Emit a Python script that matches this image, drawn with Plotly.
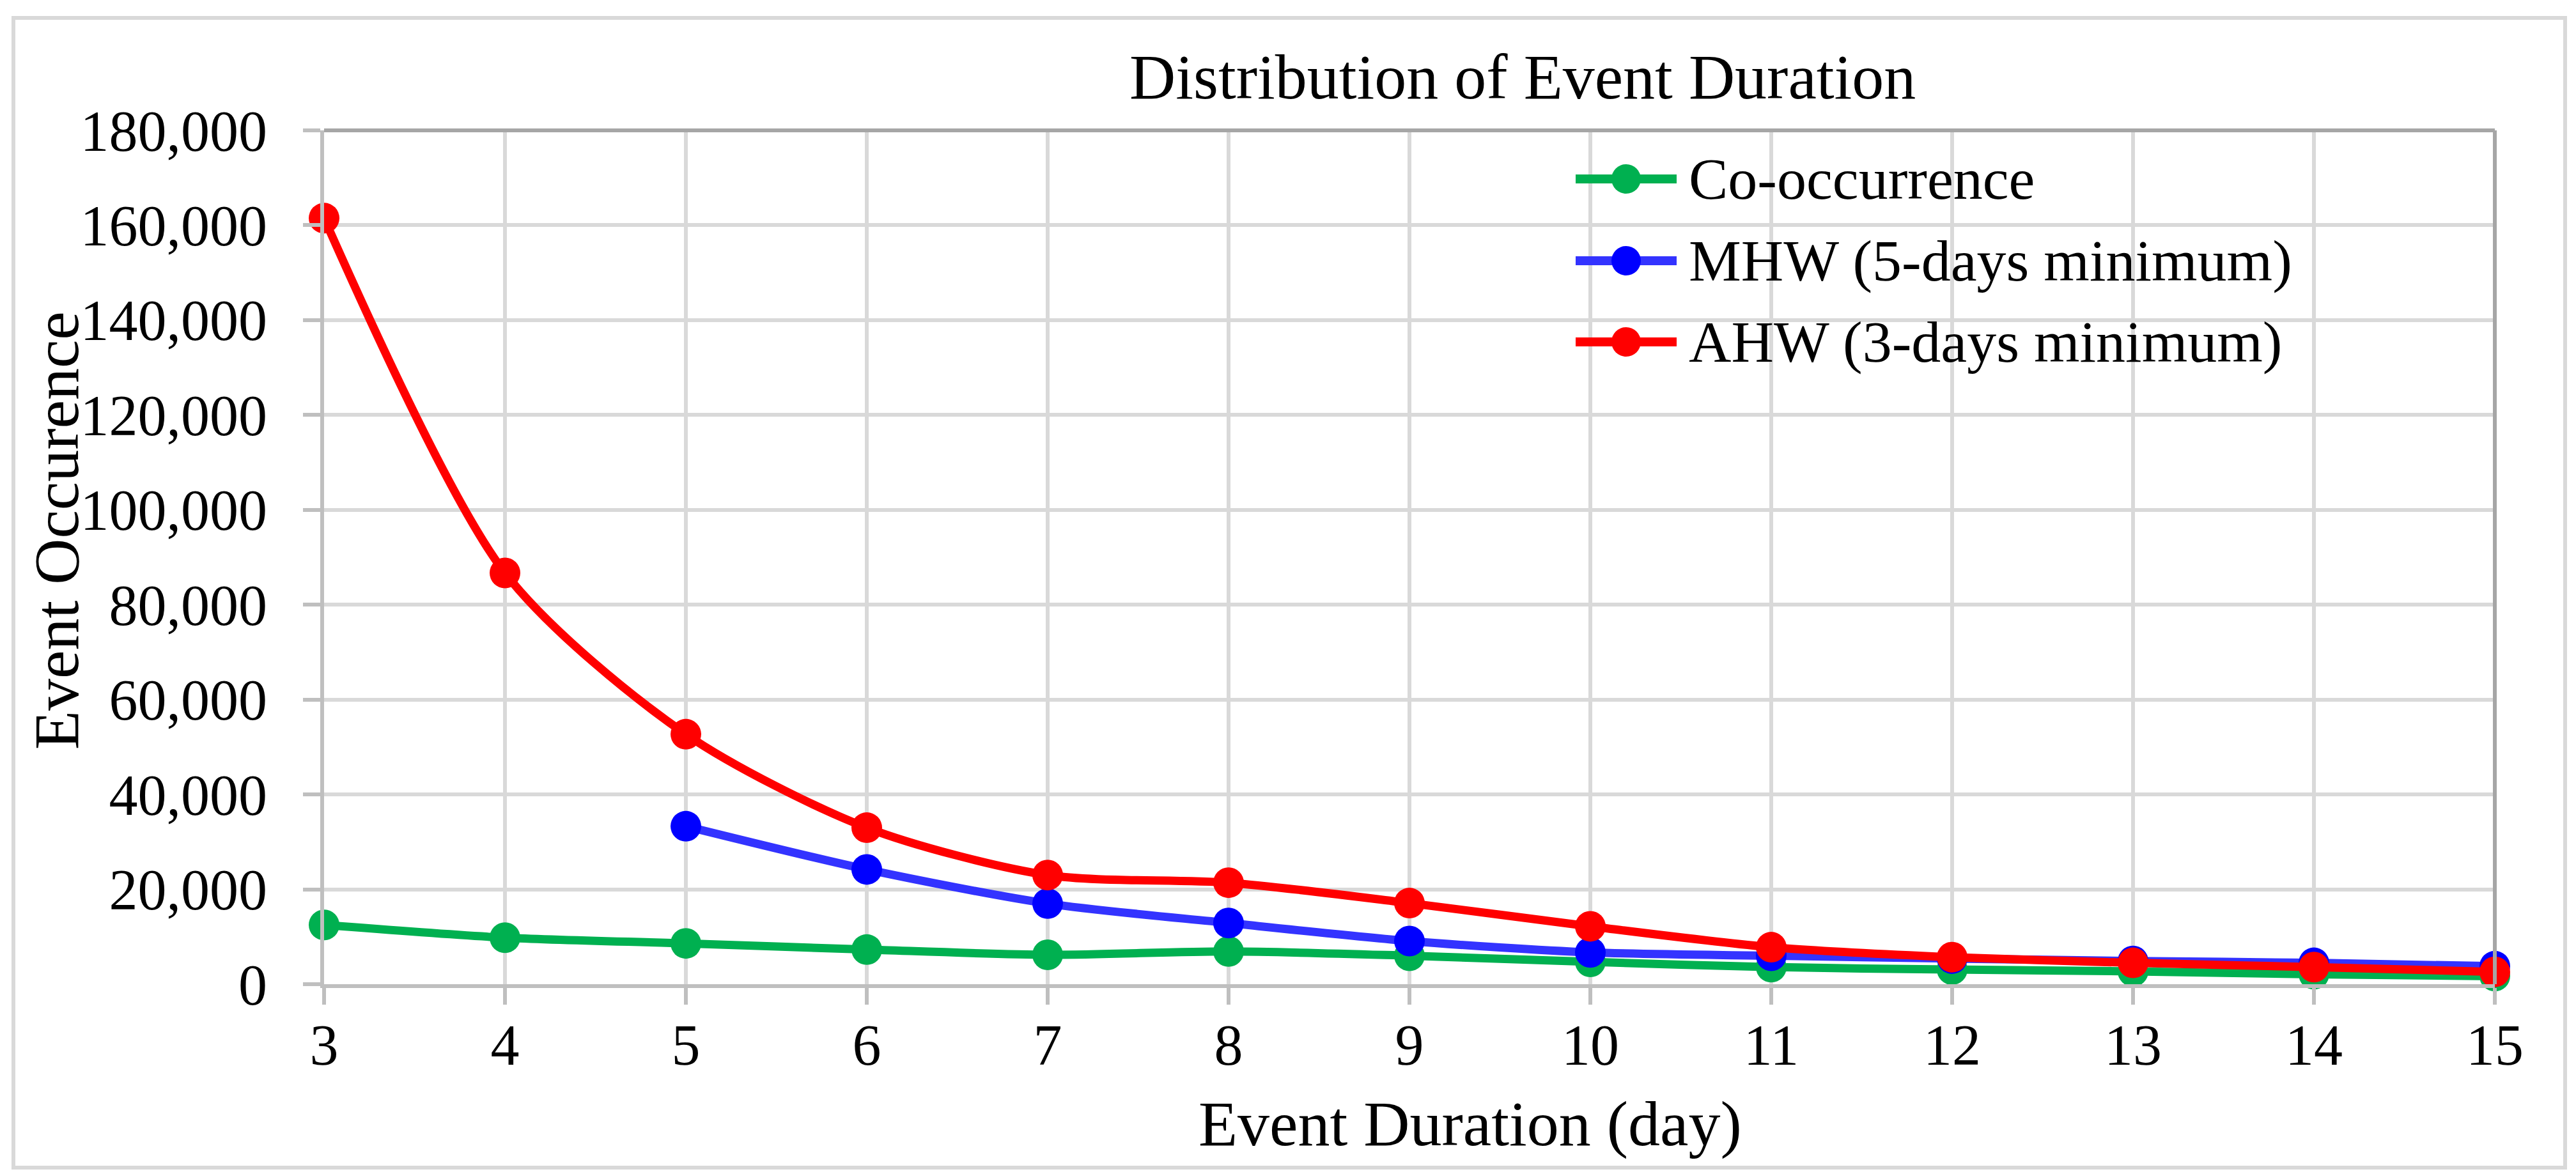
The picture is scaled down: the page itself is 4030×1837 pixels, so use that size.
import plotly.graph_objects as go

durations = [3, 4, 5, 6, 7, 8, 9, 10, 11, 12, 13, 14, 15]
co_occurrence = [12500, 9800, 8600, 7300, 6200, 6900, 6000, 4700, 3600, 3100, 2700, 2100, 1700]
mhw_5day = [None, None, 33300, 24200, 17000, 12900, 9100, 6700, 6000, 5400, 4900, 4500, 3800]
ahw_3day = [161500, 86700, 52700, 33000, 23000, 21400, 17100, 12200, 7800, 5700, 4500, 3600, 2600]
series_names = ["Co-occurrence", "MHW (5-days minimum)", "AHW (3-days minimum)"]
line_colors = ["#00B050", "#3333FF", "#FF0000"]
marker_colors = ["#00B050", "#0000FF", "#FF0000"]

W, H = 4030, 1837
L, R, T, B = 499, 4030 - 3895, 196, 1837 - 1532
PW, PH = W - L - R, H - T - B


def px(x):
    return (x - L) / PW


def py(y):
    return (H - B - y) / PH


FONT = "Liberation Serif"
TICK_FS = 90
TITLE_FS = 100
LEG_FS = 92

fig = go.Figure()
for vals, name, lc, mc in zip([co_occurrence, mhw_5day, ahw_3day], series_names, line_colors, marker_colors):
    fig.add_trace(go.Scatter(
        x=durations, y=vals, name=name, mode="lines+markers",
        line=dict(color=lc, width=13, shape="spline", smoothing=0.8),
        marker=dict(color=mc, size=48, line=dict(width=0)),
        connectgaps=False, cliponaxis=False, showlegend=False,
    ))

# legend drawn as decoration (line sample + circle + text)
shapes = [
    dict(type="rect", xref="paper", yref="paper", x0=px(13), x1=px(4005), y0=py(1819), y1=py(20),
         line=dict(color="#D9D9D9", width=6), fillcolor="rgba(0,0,0,0)", layer="below"),
    dict(type="line", xref="paper", yref="paper", x0=0, x1=1, y0=1, y1=1,
         line=dict(color="#A6A6A6", width=6)),
    dict(type="line", xref="paper", yref="paper", x0=1, x1=1, y0=0, y1=1,
         line=dict(color="#A6A6A6", width=6)),
]
annotations = []
leg_rows = [272, 400, 527]
for row, name, lc, mc in zip(leg_rows, series_names, line_colors, marker_colors):
    shapes.append(dict(type="line", xref="paper", yref="paper", x0=px(2457), x1=px(2615),
                       y0=py(row), y1=py(row), line=dict(color=lc, width=14)))
    shapes.append(dict(type="circle", xref="paper", yref="paper", x0=px(2536 - 23), x1=px(2536 + 23),
                       y0=py(row + 23), y1=py(row - 23), fillcolor=mc, line=dict(width=0)))
    annotations.append(dict(text=name, xref="paper", yref="paper", x=px(2632), y=py(row),
                            showarrow=False, xanchor="left", yanchor="middle",
                            font=dict(family=FONT, size=LEG_FS, color="black")))

annotations += [
    dict(text="Distribution of Event Duration", xref="paper", yref="paper",
         x=px(2374), y=py(112), showarrow=False, xanchor="center", yanchor="middle",
         font=dict(family=FONT, size=TITLE_FS, color="black")),
    dict(text="Event Duration (day)", xref="paper", yref="paper",
         x=px(2292), y=py(1750), showarrow=False, xanchor="center", yanchor="middle",
         font=dict(family=FONT, size=TITLE_FS, color="black")),
    dict(text="Event Occurence", xref="paper", yref="paper", textangle=-90,
         x=px(80), y=py(822), showarrow=False, xanchor="center", yanchor="middle",
         font=dict(family=FONT, size=TITLE_FS, color="black")),
]

fig.update_layout(
    width=W, height=H,
    margin=dict(l=L, r=R, t=T, b=B, pad=0),
    paper_bgcolor="white", plot_bgcolor="white",
    font=dict(family=FONT, size=TICK_FS, color="black"),
    showlegend=False,
    xaxis=dict(
        range=[3, 15], dtick=1, tick0=3, showgrid=True, gridcolor="#D9D9D9", gridwidth=6,
        showline=True, linecolor="#BFBFBF", linewidth=6,
        ticks="outside", ticklen=26, tickwidth=6, tickcolor="#BFBFBF", ticklabelstandoff=-14,
        tickfont=dict(family=FONT, size=TICK_FS, color="black"), zeroline=False,
    ),
    yaxis=dict(
        range=[0, 180000], dtick=20000, tickformat=",", showgrid=True, gridcolor="#D9D9D9",
        gridwidth=6, showline=True, linecolor="#BFBFBF", linewidth=6,
        ticks="outside", ticklen=27, tickwidth=6, tickcolor="#BFBFBF", ticklabelstandoff=38,
        tickfont=dict(family=FONT, size=TICK_FS, color="black"), zeroline=False,
    ),
    shapes=shapes,
    annotations=annotations,
)

fig.write_html("out.html")
